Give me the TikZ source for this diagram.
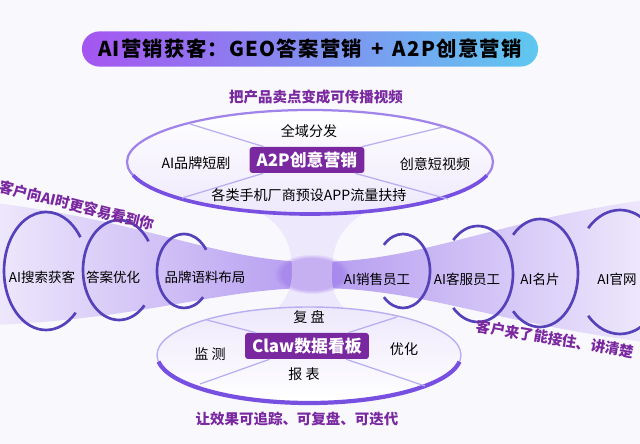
\documentclass[tikz,border=0pt]{standalone}
\usepackage{fontspec}
\setmainfont{Noto Sans CJK SC}
\usetikzlibrary{fadings}

\definecolor{bgpaper}{RGB}{249,249,253}
\definecolor{deepviolet}{RGB}{122,40,160}
\definecolor{ringblue}{RGB}{85,65,185}
\definecolor{rimviolet}{RGB}{120,80,225}
\definecolor{bandlight}{RGB}{238,232,252}
\definecolor{banddark}{RGB}{180,155,240}
\definecolor{glowviolet}{RGB}{150,110,230}
\definecolor{titleleft}{RGB}{165,85,240}
\definecolor{titlemid}{RGB}{178,168,246}
\definecolor{titleright}{RGB}{95,200,240}
\definecolor{spokeline}{RGB}{185,175,240}

\begin{document}
\begin{tikzpicture}[x=0.025cm, y=-0.025cm,
    ring/.style={line width=1.9pt, draw=ringblue},
    spoke/.style={line width=0.9pt, draw=spokeline},
    hubbox/.style={fill=deepviolet, text=white, rounded corners=2pt, inner xsep=5pt, minimum height=0.65cm, font=\fontsize{12}{14}\selectfont\bfseries},
    titlebar/.style={minimum width=11.4cm, minimum height=0.88cm, rounded corners=0.44cm, left color=titleleft, middle color=titlemid, right color=titleright, font=\fontsize{14.5}{16}\selectfont\bfseries\addfontfeature{LetterSpace=6}},
    tag/.style={font=\fontsize{10}{12}\selectfont},
    ringtag/.style={font=\fontsize{9.6}{12}\selectfont},
    slogan/.style={text=deepviolet, font=\fontsize{10.3}{12}\selectfont\bfseries}]
    % Paper
    \fill[bgpaper] (0,0) rectangle (640,444);
    \useasboundingbox (0,0) rectangle (640,444);

    % Horizontal funnel, both halves meet in the middle
    \shade[left color=bandlight, right color=banddark] (-5,203) .. controls (150,222) and (220,262) .. (315,262) -- (315,288) .. controls (220,288) and (150,318) .. (-5,325) -- cycle;
    \shade[left color=banddark, right color=bandlight] (315,262) .. controls (420,262) and (490,222) .. (645,200) -- (645,342) .. controls (490,322) and (420,288) .. (315,288) -- cycle;

    % Vertical funnel between the two ellipses
    \shade[top color=bandlight, middle color=banddark, bottom color=bandlight] (228,200) .. controls (285,215) and (292,245) .. (292,272) .. controls (292,300) and (275,320) .. (215,345) -- (405,345) .. controls (345,320) and (330,300) .. (332,272) .. controls (332,245) and (340,215) .. (398,200) -- cycle;
    \fill[glowviolet, opacity=0.45, path fading=circle with fuzzy edge 20 percent] (312,274) ellipse (38 and 20);

    % Title
    \node[titlebar] (title) at (310,49) {AI营销获客：GEO答案营销\hspace{0.45em}+\hspace{0.45em}A2P创意营销};

    % Top ellipse: A2P
    \coordinate (topc) at (310,162);
    \shade[top color=white, bottom color=bandlight] (topc) ellipse (183 and 52);
    \draw[line width=1.6pt, draw=rimviolet!70] (topc) ellipse (183 and 52);
    \draw[line width=2.6pt, draw=rimviolet] (topc) ++(15:183 and 52) arc[start angle=15, end angle=165, x radius=183, y radius=52];
    \node[slogan] (topline) at (316,97) {把产品卖点变成可传播视频};
    \coordinate (tnw) at (190,124);
    \coordinate (tne) at (443,127);
    \coordinate (tsw) at (182,198);
    \coordinate (tse) at (448,199);
    \node[hubbox] (a2p) at (307,160) {A2P创意营销};
    \draw[spoke] (a2p) -- (tnw);
    \draw[spoke] (a2p) -- (tne);
    \draw[spoke] (a2p) -- (tsw);
    \draw[spoke] (a2p) -- (tse);
    \node[tag] (quanyu) at (309,131) {全域分发};
    \node[tag] (duanju) at (196,163) {AI品牌短剧};
    \node[tag] (shipin) at (435,164) {创意短视频};
    \node[tag] (yuzhi) at (309,195) {各类手机厂商预设APP流量扶持};

    % Bottom ellipse: Claw
    \coordinate (botc) at (309,355);
    \shade[top color=bandlight, bottom color=white] (botc) ellipse (152 and 48);
    \draw[line width=1pt, draw=spokeline] (botc) ellipse (152 and 48);
    \draw[line width=3pt, draw=rimviolet] (botc) ++(8:152 and 48) arc[start angle=8, end angle=172, x radius=152, y radius=48];
    \coordinate (bnw) at (207,320);
    \coordinate (bne) at (397,317);
    \coordinate (bsw) at (200,384);
    \coordinate (bse) at (425,386);
    \node[hubbox] (claw) at (307,346) {Claw数据看板};
    \draw[spoke] (claw) -- (bnw);
    \draw[spoke] (claw) -- (bne);
    \draw[spoke] (claw) -- (bsw);
    \draw[spoke] (claw) -- (bse);
    \node[tag] (fupan) at (309,317) {复 盘};
    \node[tag] (jiance) at (210,354) {监 测};
    \node[tag] (youhua) at (404,349) {优化};
    \node[tag] (baobiao) at (304,374) {报 表};
    \node[slogan] (botline) at (297,419) {让效果可追踪、可复盘、可迭代};

    % Rings on the left (GEO)
    \draw[ring] (46,271) ++(45:42 and 59) arc[start angle=45, end angle=325, x radius=42, y radius=59];
    \draw[ring] (119,270) ++(45:36 and 50) arc[start angle=45, end angle=325, x radius=36, y radius=50];
    \draw[ring] (184,271) ++(45:27 and 37) arc[start angle=45, end angle=325, x radius=27, y radius=37];
    \node[ringtag] (sousuo) at (42,277) {AI搜索获客};
    \node[ringtag] (daan) at (113,277) {答案优化};
    \node[ringtag] (yuliao) at (205,277) {品牌语料布局};
    \node[slogan, rotate=-14, anchor=east] (leftline) at (159,226) {让客户向AI时更容易看到你};

    % Rings on the right (AI staff)
    \draw[ring] (403,271) ++(-135:27 and 37) arc[start angle=-135, end angle=135, x radius=27, y radius=37];
    \draw[ring] (478,274) ++(-135:35 and 48) arc[start angle=-135, end angle=135, x radius=35, y radius=48];
    \draw[ring] (540,273) ++(-135:38 and 54) arc[start angle=-135, end angle=135, x radius=38, y radius=54];
    \draw[ring] (620,272) ++(-135:45 and 62) arc[start angle=-135, end angle=135, x radius=45, y radius=62];
    \node[ringtag] (xiaoshou) at (377,279) {AI销售员工};
    \node[ringtag] (kefu) at (467,279) {AI客服员工};
    \node[ringtag] (mingpian) at (540,279) {AI名片};
    \node[ringtag] (guanwang) at (617,279) {AI官网};
    \node[slogan, rotate=-9.5, anchor=west] (rightline) at (472,325) {客户来了能接住、讲清楚};
\end{tikzpicture}
\end{document}
